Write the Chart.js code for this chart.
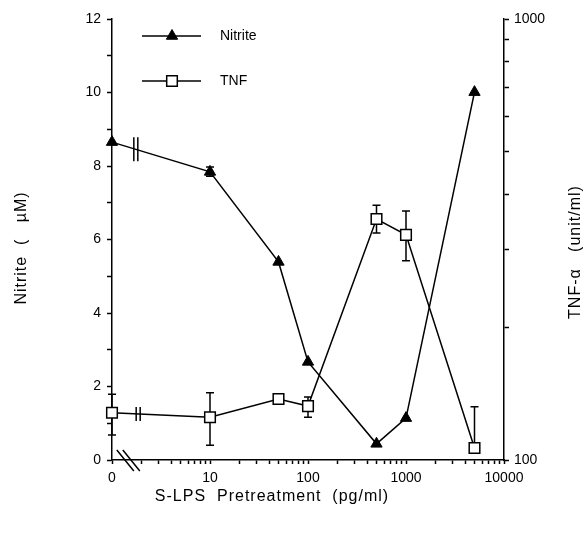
<!DOCTYPE html>
<html>
<head>
<meta charset="utf-8">
<script src="https://cdn.jsdelivr.net/npm/chart.js@4"></script>
<style>
body { margin: 0; background: #fff; }
#chart-div { width: 585px; height: 533px; }
</style>
</head>
<body>
<div id="chart-div"><canvas id="nitrite-chart"></canvas></div>
<script>
// S-LPS pretreatment dose (pg/ml); dose 0 sits at the axis break
const doses = [0, 10, 50, 100, 500, 1000, 5000]

const nitrite = [8.65, 7.84, 5.39, 2.67, 0.44, 1.14, 10.01]
const nitriteHigh = [null, 7.97, null, null, null, null, null]
const nitriteLow = [null, 7.72, null, null, null, null, null]

const tnf = [128, 125, 137.5, 132.5, 352, 324, 106.5]
const tnfHigh = [141, 142, null, 139, 378, 367, 132]
const tnfLow = [114, 108, null, 125, 327, 283, null]

const xTicks = [1, 10, 100, 1000, 10000]
const xTickLabels = ['0', '10', '100', '1000', '10000']
const nitriteTicks = [0, 2, 4, 6, 8, 10, 12]
const tnfTicks = [100, 1000]

const fontFamily = "'Liberation Sans', Arial, sans-serif"
Chart.defaults.font.family = fontFamily
Chart.defaults.color = '#000'

const plotDose = d => d === 0 ? 1 : d
const toPoints = values => values.map((v, i) => ({ x: plotDose(doses[i]), y: v }))

// 1..9 steps inside every decade between lo and hi
const logSteps = (lo, hi) => {
    const out = []
    for (let d = lo; d < hi; d *= 10) {
        for (let k = 1; k < 10; k++) out.push(d * k)
    }
    out.push(hi)
    return out
}

const ctx = document.getElementById('nitrite-chart')

const errorBars = {
    id: 'errorBars',
    beforeDatasetsDraw(chart) {
        const c = chart.ctx
        const xs = chart.scales.x
        c.save()
        c.strokeStyle = '#000'
        c.lineWidth = 1.5
        chart.data.datasets.forEach(ds => {
            const ys = chart.scales[ds.yAxisID]
            ds.data.forEach((p, i) => {
                const px = xs.getPixelForValue(p.x)
                const py = ys.getPixelForValue(p.y)
                const ends = [ds.errHigh[i], ds.errLow[i]]
                ends.forEach(v => {
                    if (v == null) return
                    const ey = ys.getPixelForValue(v)
                    c.beginPath()
                    c.moveTo(px, py)
                    c.lineTo(px, ey)
                    c.moveTo(px - 4, ey)
                    c.lineTo(px + 4, ey)
                    c.stroke()
                })
            })
        })
        c.restore()
    }
}

const breakMarks = {
    id: 'breakMarks',
    afterDatasetsDraw(chart) {
        const c = chart.ctx
        const xs = chart.scales.x
        c.save()
        c.strokeStyle = '#000'
        c.lineWidth = 1.5
        chart.data.datasets.forEach((ds, i) => {
            const pts = chart.getDatasetMeta(i).data
            const bx = xs.getPixelForValue(ds.breakAt)
            const t = (bx - pts[0].x) / (pts[1].x - pts[0].x)
            const by = pts[0].y + t * (pts[1].y - pts[0].y)
            const h = ds.breakSize
            c.beginPath()
            c.moveTo(bx - 2, by - h); c.lineTo(bx - 2, by + h)
            c.moveTo(bx + 2, by - h); c.lineTo(bx + 2, by + h)
            c.stroke()
        })
        // break on the dose axis
        const ax = xs.getPixelForValue(1.45)
        const ay = xs.top
        c.beginPath()
        c.moveTo(ax - 11, ay - 10); c.lineTo(ax + 6, ay + 11)
        c.moveTo(ax - 5, ay - 10); c.lineTo(ax + 12, ay + 11)
        c.stroke()
        c.restore()
    }
}

const legendAndTitles = {
    id: 'legendAndTitles',
    afterDraw(chart) {
        const c = chart.ctx
        c.save()
        c.strokeStyle = '#000'
        c.fillStyle = '#000'
        c.lineWidth = 1.5
        // legend
        const rows = [[36, chart.data.datasets[0]], [81, chart.data.datasets[1]]]
        rows.forEach(([y, ds]) => {
            c.beginPath()
            c.moveTo(142, y)
            c.lineTo(201, y)
            c.stroke()
            c.fillStyle = ds.pointBackgroundColor
            c.strokeStyle = '#000'
            c.lineWidth = ds.pointBorderWidth
            Chart.helpers.drawPoint(c, {
                pointStyle: ds.pointStyle, radius: ds.pointRadius, borderWidth: ds.pointBorderWidth
            }, 172, y)
            c.lineWidth = 1.5
            c.fillStyle = '#000'
            c.font = '14px ' + fontFamily
            c.textBaseline = 'middle'
            c.textAlign = 'left'
            c.fillText(ds.label, 220, y)
        })
        // axis titles
        c.font = '16px ' + fontFamily
        c.letterSpacing = '1px'
        c.textAlign = 'center'
        c.textBaseline = 'middle'
        c.fillText('S-LPS  Pretreatment  (pg/ml)', 272, 497)
        c.translate(22, 248)
        c.rotate(-Math.PI / 2)
        c.fillText('Nitrite  (   \u00b5M)', 0, 0)
        c.rotate(Math.PI / 2)
        c.translate(576 - 22, 4)
        c.rotate(-Math.PI / 2)
        c.fillText('TNF-\u03b1   (unit/ml)', 0, 0)
        c.restore()
    }
}

const myChart = new Chart(ctx, {
    type: 'line',
    data: {
        datasets: [{
            label: 'Nitrite',
            data: toPoints(nitrite),
            errHigh: nitriteHigh,
            errLow: nitriteLow,
            yAxisID: 'y',
            clip: false,
            borderColor: '#000',
            borderWidth: 1.5,
            pointStyle: 'triangle',
            pointRadius: 6.5,
            pointBorderWidth: 1,
            pointBackgroundColor: '#000',
            pointBorderColor: '#000',
            breakAt: 1.75,
            breakSize: 12
        }, {
            label: 'TNF',
            data: toPoints(tnf),
            errHigh: tnfHigh,
            errLow: tnfLow,
            yAxisID: 'y2',
            clip: false,
            borderColor: '#000',
            borderWidth: 1.5,
            pointStyle: 'rect',
            pointRadius: 7.5,
            pointBorderWidth: 1.5,
            pointBackgroundColor: '#fff',
            pointBorderColor: '#000',
            breakAt: 1.85,
            breakSize: 7
        }]
    },
    options: {
        responsive: true,
        maintainAspectRatio: false,
        animation: false,
        layout: { padding: { top: 19, left: 0, right: 0, bottom: 0 } },
        plugins: {
            legend: { display: false },
            tooltip: { enabled: false }
        },
        scales: {
            x: {
                type: 'logarithmic',
                min: 1,
                max: 10000,
                afterFit: scale => { scale.height = 73 },
                afterBuildTicks: scale => { scale.ticks = logSteps(1, 10000).map(v => ({ value: v })) },
                border: { display: true, color: '#000', width: 1.5 },
                grid: { drawOnChartArea: false, drawTicks: true, tickLength: 4, tickColor: '#000', tickWidth: 1.5 },
                ticks: {
                    autoSkip: false,
                    maxRotation: 0,
                    padding: 6,
                    font: { size: 14 },
                    color: '#000',
                    callback: v => {
                        const k = xTicks.indexOf(v)
                        return k >= 0 ? xTickLabels[k] : ''
                    }
                }
            },
            y: {
                position: 'left',
                min: 0,
                max: 12,
                afterFit: scale => { scale.width = 112 },
                border: { display: true, color: '#000', width: 1.5 },
                grid: { drawOnChartArea: false, drawTicks: true, tickLength: 5, tickColor: '#000', tickWidth: 1.5 },
                ticks: {
                    stepSize: 1,
                    autoSkip: false,
                    padding: 6,
                    font: { size: 14 },
                    color: '#000',
                    callback: v => nitriteTicks.includes(v) ? String(v) : ''
                }
            },
            y2: {
                type: 'logarithmic',
                position: 'right',
                min: 100,
                max: 1000,
                afterFit: scale => { scale.width = 81 },
                afterBuildTicks: scale => { scale.ticks = logSteps(100, 1000).map(v => ({ value: v })) },
                border: { display: true, color: '#000', width: 1.5 },
                grid: { drawOnChartArea: false, drawTicks: true, tickLength: 5, tickColor: '#000', tickWidth: 1.5 },
                ticks: {
                    autoSkip: false,
                    padding: 5,
                    font: { size: 14 },
                    color: '#000',
                    callback: v => tnfTicks.includes(v) ? String(v) : ''
                }
            }
        }
    },
    plugins: [errorBars, breakMarks, legendAndTitles]
})
</script>
</body>
</html>
